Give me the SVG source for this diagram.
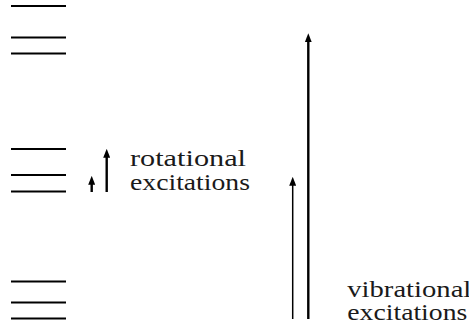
<svg xmlns="http://www.w3.org/2000/svg" width="469" height="330" viewBox="0 0 469 330">
<style>
.lvl{stroke:#000;stroke-width:2.2}
.thin{stroke:#000;stroke-width:1.5;fill:none}
.thick{stroke:#000;stroke-width:2.4;fill:none}
.lbl{font-family:"Times New Roman","Liberation Serif","DejaVu Serif",serif;font-size:23px;fill:#1a1a1a}
</style>
<defs>
<marker id="ah" viewBox="0 0 10 10" refX="2" refY="5" markerUnits="userSpaceOnUse" markerWidth="9" markerHeight="7" orient="auto" preserveAspectRatio="none">
<path d="M0,0 L10,5 L0,10 Z" fill="#000"/>
</marker>
</defs>
<g id="levels-vib2">
<line class="lvl" x1="11" y1="6" x2="66" y2="6"/>
<line class="lvl" x1="11" y1="37.5" x2="66" y2="37.5"/>
<line class="lvl" x1="11" y1="53.5" x2="66" y2="53.5"/>
</g>
<g id="levels-vib1">
<line class="lvl" x1="11" y1="149" x2="66" y2="149"/>
<line class="lvl" x1="11" y1="175" x2="66" y2="175"/>
<line class="lvl" x1="11" y1="191.5" x2="66" y2="191.5"/>
</g>
<g id="levels-vib0">
<line class="lvl" x1="11" y1="281.5" x2="66" y2="281.5"/>
<line class="lvl" x1="11" y1="302.5" x2="66" y2="302.5"/>
<line class="lvl" x1="11" y1="318.5" x2="66" y2="318.5"/>
</g>
<g id="connectors">
<line class="thick" x1="91.7" y1="192" x2="91.7" y2="183" marker-end="url(#ah)"/>
<line class="thick" x1="106.7" y1="192" x2="106.7" y2="156" marker-end="url(#ah)"/>
<line class="thin" x1="292.7" y1="319" x2="292.7" y2="184" marker-end="url(#ah)"/>
<line class="thick" x1="308.3" y1="319" x2="308.3" y2="40.5" marker-end="url(#ah)"/>
</g>
<g id="label-rot">
<text class="lbl" x="130" y="166" textLength="116" lengthAdjust="spacingAndGlyphs">rotational</text>
<text class="lbl" x="130" y="189.5" textLength="120" lengthAdjust="spacingAndGlyphs">excitations</text>
</g>
<g id="label-vib">
<text class="lbl" x="347.3" y="296.7" textLength="124" lengthAdjust="spacingAndGlyphs">vibrational</text>
<text class="lbl" x="347.3" y="320" textLength="120" lengthAdjust="spacingAndGlyphs">excitations</text>
</g>
</svg>
